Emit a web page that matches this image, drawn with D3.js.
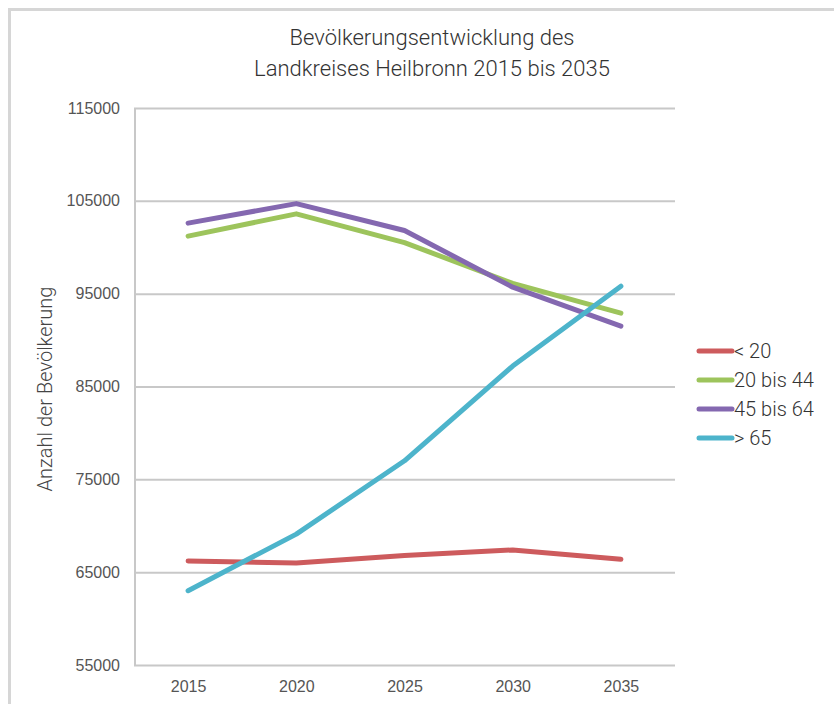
<!DOCTYPE html>
<html>
<head>
<meta charset="utf-8">
<script src="https://cdn.jsdelivr.net/npm/d3@7"></script>
<style>
  body { margin: 0; background: #fff; }
  svg { display: block; font-family: Roboto, "Liberation Sans", sans-serif; }
</style>
</head>
<body>
<svg width="834" height="704"></svg>
<script>
// data
var years = ["2015", "2020", "2025", "2030", "2035"];
var under20 = [66200, 66000, 66800, 67400, 66400];
var from20to44 = [101200, 103600, 100500, 96100, 92900];
var from45to64 = [102600, 104700, 101800, 95700, 91500];
var over65 = [63000, 69100, 77000, 87200, 95800];
var seriesNames = ["< 20", "20 bis 44", "45 bis 64", "> 65"];
var seriesColors = ["#cd5b5d", "#9dc45c", "#8468b0", "#4db4cb"];
var yTicks = [55000, 65000, 75000, 85000, 95000, 105000, 115000];

var series = [under20, from20to44, from45to64, over65];

var svg = d3.select("svg");

// grey frame of the screenshot
svg.append("rect")
  .attr("x", 9.5).attr("y", 9.5)
  .attr("width", 900).attr("height", 800)
  .attr("fill", "none")
  .attr("stroke", "#d6d6d6")
  .attr("stroke-width", 3);

var plotL = 134, plotR = 675, plotT = 108, plotB = 665;

var x = d3.scalePoint().domain(years).range([plotL, plotR]).padding(0.5);
var y = d3.scaleLinear().domain([55000, 115000]).range([plotB, plotT]);

// title
var title = svg.append("text")
  .attr("text-anchor", "middle")
  .attr("fill", "#333").style("font-size", "22px").style("font-weight", 300);
title.append("tspan").attr("x", 432).attr("y", 45).text("Bevölkerungsentwicklung des");
title.append("tspan").attr("x", 432).attr("y", 76).text("Landkreises Heilbronn 2015 bis 2035");

// gridlines + y labels
var yAxis = d3.axisLeft(y).tickValues(yTicks).tickSize(-(plotR - plotL)).tickPadding(14)
  .tickFormat(d3.format("d"));
var gy = svg.append("g").attr("transform", "translate(" + plotL + ",0)").call(yAxis);
gy.select(".domain").remove();
gy.selectAll(".tick line").attr("stroke", "#c8c8c8").attr("stroke-width", 2);
gy.selectAll(".tick text").attr("fill", "#555").style("font-size", "16px");

// left axis line
svg.append("line")
  .attr("x1", plotL + 1).attr("x2", plotL + 1)
  .attr("y1", plotT).attr("y2", plotB)
  .attr("stroke", "#c8c8c8").attr("stroke-width", 2);

// x labels
var xAxis = d3.axisBottom(x).tickSize(0).tickPadding(16);
var gx = svg.append("g").attr("transform", "translate(0," + plotB + ")").call(xAxis);
gx.select(".domain").remove();
gx.selectAll(".tick text").attr("fill", "#555").style("font-size", "16px");

// y axis title
svg.append("text")
  .attr("transform", "translate(52,389) rotate(-90)")
  .attr("text-anchor", "middle")
  .attr("fill", "#444").style("font-size", "20px").style("font-weight", 300)
  .text("Anzahl der Bevölkerung");

// lines
var line = d3.line()
  .x(function(d, i) { return x(years[i]); })
  .y(function(d) { return y(d); });

svg.selectAll("path.series")
  .data(series)
  .enter().append("path")
  .attr("class", "series")
  .attr("d", line)
  .attr("fill", "none")
  .attr("stroke", function(d, i) { return seriesColors[i]; })
  .attr("stroke-width", 5)
  .attr("stroke-linecap", "round")
  .attr("stroke-linejoin", "round");

// legend
var legend = svg.selectAll("g.legend")
  .data(seriesNames)
  .enter().append("g")
  .attr("class", "legend")
  .attr("transform", function(d, i) { return "translate(699," + (351 + i * 29) + ")"; });
legend.append("line")
  .attr("x1", 0).attr("x2", 33)
  .attr("stroke", function(d, i) { return seriesColors[i]; })
  .attr("stroke-width", 5)
  .attr("stroke-linecap", "round");
legend.append("text")
  .attr("x", 35).attr("y", 7)
  .attr("fill", "#333").style("font-size", "20px").style("font-weight", 300)
  .text(function(d) { return d; });
</script>
</body>
</html>
